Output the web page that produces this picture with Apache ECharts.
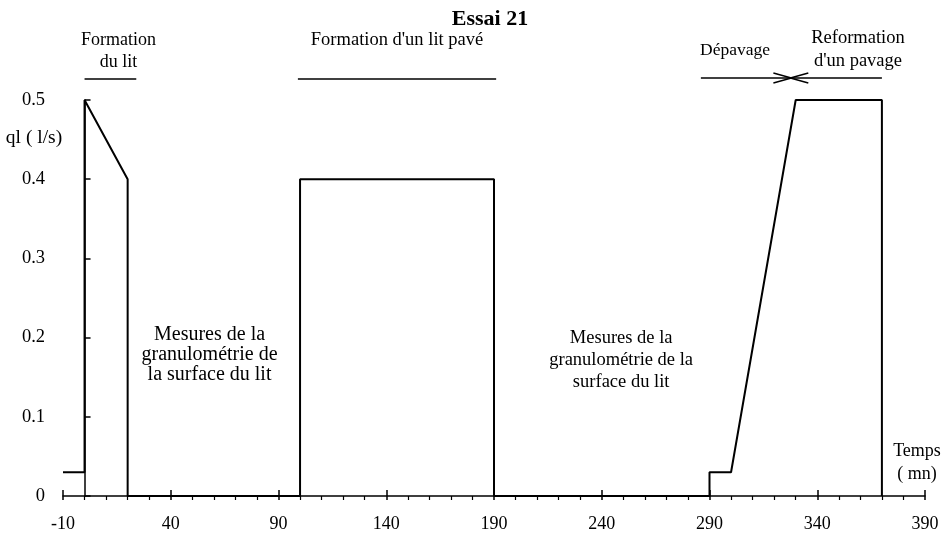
<!DOCTYPE html>
<html>
<head>
<meta charset="utf-8">
<script src="https://cdn.jsdelivr.net/npm/echarts@6/dist/echarts.min.js"></script>
<style>html,body{margin:0;padding:0;background:#fff}#main{width:950px;height:537px}</style>
</head>
<body>
<div id="main"></div>
<script>
// temps (mn) / débit liquide ql (l/s)
var temps = [-10, 0, 0, 20, 20, 100, 100, 190, 190, 290, 290, 300, 330, 370, 370];
var debit = [0.03, 0.03, 0.5, 0.4, 0, 0, 0.4, 0.4, 0, 0, 0.03, 0.03, 0.5, 0.5, 0];

// phases au-dessus du graphe : [début, fin]
var phaseFormation = [0, 24];
var phasePave = [99, 191];
var phaseDepavage = [286, 328];
var phaseReformation = [370, 327.5];

// textes "Mesures" : [x, y] centre
var mesures1 = [58, 0.178];
var mesures2 = [249, 0.172];

var police = 'Liberation Serif';

var points = [];
for (var i = 0; i < temps.length; i++) {
    points.push([temps[i], debit[i]]);
}

var chart = echarts.init(document.getElementById('main'));

var axeX = {
    type: 'value',
    min: -10,
    max: 390,
    interval: 50,
    splitLine: {show: false}
};

chart.setOption({
    animation: false,
    backgroundColor: '#fff',
    title: {
        text: 'Essai 21',
        left: 485,
        top: 3,
        textAlign: 'center',
        textStyle: {fontFamily: police, fontSize: 22, fontWeight: 'bold', color: '#000'}
    },
    grid: {left: 63, right: 25, top: 100, bottom: 41},
    xAxis: [
        Object.assign({}, axeX, {
            axisLine: {onZero: false, lineStyle: {color: '#000', width: 1.5}},
            axisTick: {length: 4, lineStyle: {color: '#000', width: 1.5}},
            minorTick: {show: true, splitNumber: 5, length: 4, lineStyle: {color: '#000', width: 1.2}},
            axisLabel: {fontFamily: police, fontSize: 18, color: '#000', margin: 19}
        }),
        // ticks majeurs côté intérieur
        Object.assign({}, axeX, {
            position: 'bottom',
            axisLine: {show: false},
            axisTick: {inside: true, length: 6, lineStyle: {color: '#000', width: 1.5}},
            axisLabel: {show: false}
        })
    ],
    yAxis: {
        type: 'value',
        min: 0,
        max: 0.5,
        interval: 0.1,
        axisLine: {show: true, onZero: true, lineStyle: {color: '#000', width: 1.5}},
        axisTick: {show: true, inside: true, length: 6, lineStyle: {color: '#000', width: 1.5}},
        splitLine: {show: false},
        axisLabel: {fontFamily: police, fontSize: 18.5, color: '#000', margin: 18}
    },
    series: [{
        type: 'line',
        data: points,
        symbol: 'none',
        lineStyle: {color: '#000', width: 2}
    }]
});

function px(x, y) {
    return chart.convertToPixel({gridIndex: 0}, [x, y]);
}

function texte(x, y, s, size, lh) {
    return {
        type: 'text',
        x: x, y: y,
        style: {
            text: s,
            fontFamily: police,
            fontSize: size || 18,
            lineHeight: lh || 21,
            fill: '#000',
            align: 'center',
            verticalAlign: 'middle'
        }
    };
}

function trait(x1, x2, y) {
    return {type: 'line', shape: {x1: x1, y1: y, x2: x2, y2: y}, style: {stroke: '#000', lineWidth: 1.5}};
}

function fleche(x1, x2, y) {
    var d = x2 > x1 ? -1 : 1;
    return [
        trait(x1, x2, y),
        {type: 'polyline', shape: {points: [[x2 + d * 18, y - 5], [x2, y], [x2 + d * 18, y + 5]]}, style: {stroke: '#000', lineWidth: 1.5, fill: null}}
    ];
}

var yTrait = 79;
var g = [];
var a = px(phaseFormation[0], 0)[0], b = px(phaseFormation[1], 0)[0];
g.push(trait(a, b, yTrait));
g.push(texte((a + b) / 2 + 8, 51, 'Formation\ndu lit', 18, 22));

a = px(phasePave[0], 0)[0]; b = px(phasePave[1], 0)[0];
g.push(trait(a, b, yTrait));
g.push(texte((a + b) / 2, 40, "Formation d'un lit pavé", 18.5));

a = px(phaseDepavage[0], 0)[0]; b = px(phaseDepavage[1], 0)[0];
g = g.concat(fleche(a, b, 78));
g.push(texte(735, 50, 'Dépavage', 17.5));

a = px(phaseReformation[0], 0)[0]; b = px(phaseReformation[1], 0)[0];
g = g.concat(fleche(a, b, 78));
g.push(texte(858, 50, 'Reformation\nd\'un pavage', 18.5, 23));

var m = px(mesures1[0], mesures1[1]);
g.push(texte(m[0], m[1], 'Mesures de la\ngranulométrie de\nla surface du lit', 20, 20));
m = px(mesures2[0], mesures2[1]);
g.push(texte(m[0], m[1], 'Mesures de la\ngranulométrie de la\nsurface du lit', 18.5, 22));

g.push(texte(34, 138, 'ql ( l/s)', 19.5));
g.push(texte(917, 463, 'Temps\n( mn)', 18, 23));

chart.setOption({graphic: g});
</script>
</body>
</html>
